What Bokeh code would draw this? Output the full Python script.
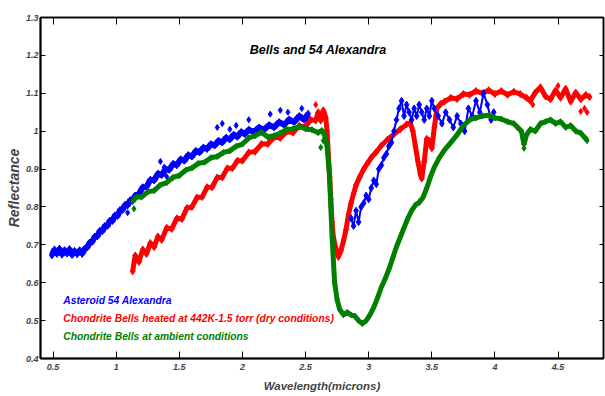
from bokeh.plotting import figure
from bokeh.models import Range1d, LinearAxis, Label, FixedTicker, CustomJSTickFormatter
from bokeh.embed import file_html
from bokeh.resources import INLINE

title_text = "Bells and 54 Alexandra"
x_label = "Wavelength(microns)"
y_label = "Reflectance"
x_ticks = [0.5, 1.0, 1.5, 2.0, 2.5, 3.0, 3.5, 4.0, 4.5]
y_ticks = [0.4, 0.5, 0.6, 0.7, 0.8, 0.9, 1.0, 1.1, 1.2, 1.3]

legend_names = ["Asteroid 54 Alexandra",
                "Chondrite Bells heated at 442K-1.5 torr (dry conditions)",
                "Chondrite Bells at ambient conditions"]

# Asteroid 54 Alexandra, visible/near-IR part
ast_vis_x = [0.49, 0.51, 0.53, 0.55, 0.57, 0.59, 0.61, 0.63, 0.65, 0.67, 0.69, 0.71, 0.73, 0.75,
             0.77, 0.79, 0.81, 0.83, 0.85, 0.87, 0.89, 0.91, 0.93, 0.95, 0.97, 0.99, 1.01, 1.03,
             1.05, 1.07, 1.09, 1.11, 1.13, 1.15, 1.18, 1.21, 1.24, 1.27, 1.30, 1.33, 1.36, 1.39,
             1.42, 1.45, 1.48, 1.51, 1.54, 1.57, 1.60, 1.63, 1.66, 1.69, 1.72, 1.75, 1.78, 1.81,
             1.84, 1.87, 1.90, 1.93, 1.96, 1.99, 2.02, 2.05, 2.09, 2.13, 2.17, 2.21, 2.25, 2.29,
             2.33, 2.37, 2.41, 2.45, 2.49, 2.52]
ast_vis_y = [0.672, 0.688, 0.676, 0.690, 0.674, 0.686, 0.677, 0.689, 0.673, 0.684, 0.675, 0.686,
             0.676, 0.690, 0.693, 0.706, 0.708, 0.722, 0.722, 0.737, 0.736, 0.750, 0.750, 0.764,
             0.763, 0.778, 0.776, 0.792, 0.792, 0.806, 0.804, 0.818, 0.816, 0.830, 0.834, 0.852,
             0.853, 0.872, 0.870, 0.888, 0.884, 0.900, 0.898, 0.914, 0.910, 0.926, 0.922, 0.937,
             0.933, 0.948, 0.944, 0.957, 0.953, 0.966, 0.962, 0.975, 0.970, 0.983, 0.978, 0.991,
             0.985, 0.998, 0.992, 1.004, 0.998, 1.010, 1.004, 1.016, 1.010, 1.024, 1.017, 1.031,
             1.024, 1.040, 1.030, 1.046]
# Asteroid 54 Alexandra, 3-micron part
ast_ir_x = [2.86, 2.88, 2.90, 2.92, 2.94, 2.96, 2.98, 3.00, 3.02, 3.04, 3.06, 3.08, 3.10, 3.12,
            3.14, 3.16, 3.18, 3.20, 3.22, 3.24, 3.26, 3.28, 3.30, 3.32, 3.34, 3.36, 3.38, 3.40,
            3.42, 3.44, 3.46, 3.48, 3.50, 3.52, 3.55, 3.58, 3.61, 3.64, 3.67, 3.70, 3.73, 3.76,
            3.79, 3.82, 3.85, 3.88, 3.91, 3.94, 3.97, 3.99]
ast_ir_y = [0.77, 0.75, 0.79, 0.76, 0.80, 0.81, 0.83, 0.82, 0.85, 0.87, 0.86, 0.90, 0.91, 0.93,
            0.94, 0.96, 0.97, 1.00, 1.03, 1.06, 1.08, 1.04, 1.07, 1.05, 1.03, 1.06, 1.04, 1.07,
            1.05, 1.03, 1.06, 1.04, 1.08, 1.06, 1.04, 1.02, 1.05, 1.03, 1.01, 1.04, 1.02, 1.00,
            1.06, 1.04, 1.08, 1.05, 1.10, 1.07, 1.03, 1.05]
# scattered asteroid points
ast_pts_x = [1.09, 1.35, 1.38, 1.40, 1.80, 1.84, 1.90, 1.95, 2.05, 2.22, 2.30, 2.36, 2.47]
ast_pts_y = [0.785, 0.920, 0.905, 0.880, 1.010, 1.020, 1.005, 1.015, 1.030, 1.045, 1.055, 1.050, 1.060]

# Chondrite Bells heated (dry)
dry_x = [1.13, 1.15, 1.18, 1.21, 1.24, 1.27, 1.30, 1.33, 1.36, 1.40, 1.44, 1.48, 1.52, 1.56,
         1.60, 1.64, 1.68, 1.72, 1.76, 1.80, 1.84, 1.88, 1.92, 1.96, 2.00, 2.05, 2.10, 2.15,
         2.20, 2.25, 2.30, 2.35, 2.40, 2.45, 2.50, 2.54, 2.58, 2.60, 2.62, 2.64, 2.66, 2.67,
         2.68, 2.69, 2.70, 2.71, 2.72, 2.74, 2.76, 2.78, 2.80, 2.82, 2.84, 2.86, 2.88, 2.90,
         2.93, 2.96, 2.99, 3.02, 3.06, 3.10, 3.15, 3.20, 3.25, 3.30, 3.33, 3.35, 3.37, 3.39,
         3.41, 3.42, 3.44, 3.46, 3.48, 3.50, 3.52, 3.54, 3.57, 3.60, 3.65, 3.70, 3.75, 3.80,
         3.85, 3.90, 3.95, 4.00, 4.05, 4.10, 4.15, 4.20, 4.25, 4.28, 4.32, 4.36, 4.40, 4.44,
         4.48, 4.52, 4.56, 4.60, 4.64, 4.68, 4.72, 4.75]
dry_y = [0.630, 0.672, 0.655, 0.688, 0.676, 0.705, 0.694, 0.722, 0.713, 0.745, 0.742, 0.770,
         0.768, 0.797, 0.800, 0.825, 0.826, 0.852, 0.852, 0.878, 0.878, 0.902, 0.902, 0.922,
         0.922, 0.944, 0.946, 0.966, 0.966, 0.984, 0.982, 0.999, 0.996, 1.014, 1.012, 1.030,
         1.028, 1.050, 1.028, 1.055, 1.035, 1.000, 0.940, 0.880, 0.820, 0.760, 0.720, 0.690,
         0.668, 0.685, 0.710, 0.740, 0.780, 0.810, 0.835, 0.858, 0.880, 0.900, 0.915, 0.930,
         0.945, 0.962, 0.978, 0.992, 1.005, 1.018, 1.022, 1.000, 0.960, 0.920, 0.885, 0.875,
         0.920, 0.980, 0.975, 0.955, 1.010, 1.060, 1.072, 1.078, 1.088, 1.085, 1.098, 1.096,
         1.106, 1.100, 1.108, 1.098, 1.106, 1.096, 1.104, 1.098, 1.088, 1.080, 1.102, 1.116,
         1.092, 1.084, 1.108, 1.088, 1.112, 1.078, 1.102, 1.084, 1.096, 1.090]
dry_pts_x = [2.58, 4.68, 4.71, 4.73, 4.30, 4.50]
dry_pts_y = [1.070, 1.052, 1.060, 1.050, 1.070, 1.120]

# Chondrite Bells at ambient conditions
amb_x = [1.13, 1.16, 1.20, 1.25, 1.30, 1.35, 1.40, 1.45, 1.50, 1.55, 1.60, 1.65, 1.70, 1.75,
         1.80, 1.85, 1.90, 1.95, 2.00, 2.05, 2.10, 2.15, 2.20, 2.25, 2.30, 2.35, 2.40, 2.45,
         2.50, 2.55, 2.60, 2.63, 2.65, 2.67, 2.69, 2.70, 2.71, 2.72, 2.73, 2.75, 2.77, 2.80,
         2.83, 2.86, 2.89, 2.92, 2.95, 2.98, 3.01, 3.04, 3.07, 3.10, 3.13, 3.16, 3.19, 3.22,
         3.25, 3.28, 3.31, 3.34, 3.37, 3.40, 3.43, 3.46, 3.49, 3.52, 3.56, 3.60, 3.65, 3.70,
         3.75, 3.80, 3.85, 3.90, 3.95, 4.00, 4.05, 4.10, 4.15, 4.18, 4.21, 4.23, 4.25, 4.28,
         4.32, 4.36, 4.40, 4.44, 4.48, 4.52, 4.56, 4.60, 4.64, 4.68, 4.72, 4.73]
amb_y = [0.815, 0.826, 0.826, 0.840, 0.843, 0.858, 0.864, 0.878, 0.883, 0.897, 0.903, 0.915,
         0.918, 0.930, 0.933, 0.944, 0.948, 0.960, 0.966, 0.982, 0.988, 0.997, 0.985, 0.988,
         0.995, 1.005, 1.006, 1.012, 1.006, 1.004, 0.996, 1.002, 0.990, 0.960, 0.880, 0.800,
         0.720, 0.660, 0.600, 0.555, 0.530, 0.515, 0.522, 0.515, 0.512, 0.500, 0.492, 0.500,
         0.515, 0.535, 0.560, 0.588, 0.610, 0.635, 0.665, 0.695, 0.720, 0.745, 0.770, 0.790,
         0.805, 0.812, 0.825, 0.850, 0.880, 0.905, 0.930, 0.950, 0.970, 0.990, 1.015, 1.030,
         1.035, 1.040, 1.042, 1.035, 1.032, 1.025, 1.020, 1.010, 1.000, 0.965, 0.990, 1.005,
         1.000, 1.020, 1.025, 1.030, 1.020, 1.025, 1.010, 1.015, 1.000, 0.995, 0.980, 0.975]
amb_pts_x = [1.14, 2.62, 2.64, 4.23]
amb_pts_y = [0.795, 0.957, 0.975, 0.955]

BLUE = "#0000FF"
RED = "#FF0000"
GREEN = "#007F00"
FONT = "Liberation Sans"

p = figure(width=605, height=396, output_backend="svg", toolbar_location=None,
           x_range=Range1d(0.4, 4.86), y_range=Range1d(0.4, 1.3),
           min_border_left=40, min_border_right=2, min_border_top=17, min_border_bottom=38)
p.background_fill_color = "white"
p.border_fill_color = "white"
p.grid.visible = False
p.outline_line_color = "black"
p.outline_line_width = 1.5

fmt = CustomJSTickFormatter(code="return (Math.round(tick*10)/10).toString();")

for ax in p.xaxis:
    ax.ticker = FixedTicker(ticks=x_ticks)
    ax.formatter = fmt
    ax.major_tick_in = 7
    ax.major_tick_out = 0
    ax.minor_tick_line_color = None
    ax.axis_line_width = 2
    ax.major_label_standoff = 5
    ax.major_label_text_font = FONT
    ax.major_label_text_font_style = "bold italic"
    ax.major_label_text_font_size = "9px"
    ax.axis_label = x_label
    ax.axis_label_text_font = FONT
    ax.axis_label_text_font_style = "bold italic"
    ax.axis_label_text_font_size = "11.5px"
    ax.axis_label_standoff = 7

for ax in p.yaxis:
    ax.ticker = FixedTicker(ticks=y_ticks)
    ax.formatter = fmt
    ax.major_tick_in = 5
    ax.major_tick_out = 0
    ax.minor_tick_line_color = None
    ax.axis_line_width = 2
    ax.major_label_standoff = 2
    ax.major_label_text_font = FONT
    ax.major_label_text_font_style = "bold italic"
    ax.major_label_text_font_size = "9px"
    ax.axis_label = y_label
    ax.axis_label_text_font = FONT
    ax.axis_label_text_font_style = "bold italic"
    ax.axis_label_text_font_size = "14px"
    ax.axis_label_standoff = 1

top_ax = LinearAxis(ticker=FixedTicker(ticks=x_ticks), major_label_text_font_size="0px",
                    major_label_text_color=None,
                    major_tick_in=7, major_tick_out=0, minor_tick_line_color=None,
                    major_label_standoff=0, axis_line_width=1.5)
p.add_layout(top_ax, "above")
right_ax = LinearAxis(ticker=FixedTicker(ticks=y_ticks), major_label_text_font_size="0px",
                      major_label_text_color=None,
                      major_tick_in=4, major_tick_out=0, minor_tick_line_color=None,
                      major_label_standoff=0, axis_line_width=1.5)
p.add_layout(right_ax, "right")

# dry (red)
p.line(dry_x, dry_y, color=RED, line_width=5)
p.scatter(dry_x, dry_y, marker="diamond", size=7, color=RED)
p.scatter(dry_pts_x, dry_pts_y, marker="diamond", size=6, color=RED)
# asteroid (blue)
p.line(ast_vis_x, ast_vis_y, color=BLUE, line_width=6)
p.scatter(ast_vis_x, ast_vis_y, marker="diamond", size=7, color=BLUE)
p.scatter(ast_ir_x, ast_ir_y, marker="diamond", size=7, color=BLUE)
p.line(ast_ir_x, ast_ir_y, color=BLUE, line_width=2)
p.scatter(ast_pts_x, ast_pts_y, marker="diamond", size=6, color=BLUE)
# ambient (green)
p.line(amb_x, amb_y, color=GREEN, line_width=5)
p.scatter(amb_x, amb_y, marker="diamond", size=6, color=GREEN)
p.scatter(amb_pts_x, amb_pts_y, marker="diamond", size=6, color=GREEN)

p.add_layout(Label(x=2.6, y=1.215, text=title_text, text_align="center", text_baseline="middle",
                   text_font=FONT, text_font_style="bold italic", text_font_size="12.5px",
                   text_color="black"))

legend_colors = [BLUE, RED, GREEN]
legend_y = [0.553, 0.506, 0.458]
for name, col, yy in zip(legend_names, legend_colors, legend_y):
    p.add_layout(Label(x=0.58, y=yy, text=name, text_align="left", text_baseline="middle",
                       text_font=FONT, text_font_style="bold italic",
                       text_font_size="10.3px", text_color=col))

open("out.html", "w").write(file_html(p, INLINE))
